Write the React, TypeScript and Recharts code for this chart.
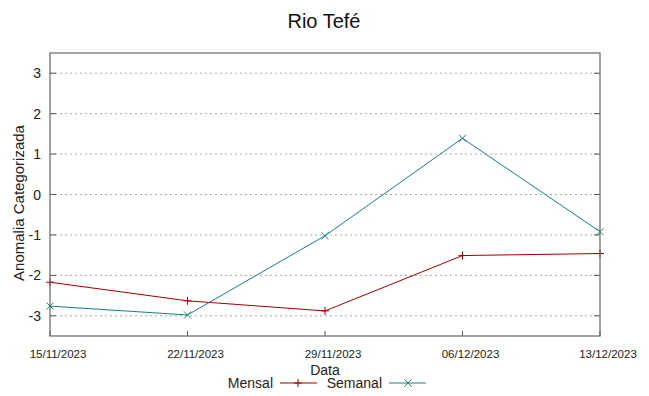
import React from 'react';
import { LineChart, Line, XAxis, YAxis, CartesianGrid } from 'recharts';

const dates = ['15/11/2023', '22/11/2023', '29/11/2023', '06/12/2023', '13/12/2023'];
const mensal = [-2.17, -2.63, -2.88, -1.51, -1.46];
const semanal = [-2.76, -2.98, -1.02, 1.39, -0.92];
const yTicks = [-3, -2, -1, 0, 1, 2, 3];
const seriesNames = ['Mensal', 'Semanal'];

const RED = '#a00000';
const TEAL = '#1a8080';
const AXIS = '#555';
const FONT = '"Liberation Sans", Arial, sans-serif';

const data = dates.map((d, i) => ({ date: d, Mensal: mensal[i], Semanal: semanal[i] }));

const PlusDot = (props: any) => {
  const { cx, cy } = props;
  if (cx == null || cy == null) return null;
  const s = 4;
  return (
    <g>
      <line x1={cx - s} y1={cy} x2={cx + s} y2={cy} stroke={RED} strokeWidth={1} />
      <line x1={cx} y1={cy - s} x2={cx} y2={cy + s} stroke={RED} strokeWidth={1} />
    </g>
  );
};

const CrossDot = (props: any) => {
  const { cx, cy } = props;
  if (cx == null || cy == null) return null;
  const s = 3.5;
  return (
    <g>
      <line x1={cx - s} y1={cy - s} x2={cx + s} y2={cy + s} stroke={TEAL} strokeWidth={1} />
      <line x1={cx - s} y1={cy + s} x2={cx + s} y2={cy - s} stroke={TEAL} strokeWidth={1} />
    </g>
  );
};

const LeftTick = (props: any) => {
  const { x, y, payload } = props;
  return (
    <g>
      <text x={x} y={y} dy={5} textAnchor="end" fontSize={14} fill="#222" fontFamily={FONT}>
        {payload.value}
      </text>
      <line x1={x + 9} y1={y} x2={x + 15} y2={y} stroke={AXIS} />
    </g>
  );
};

const RightTick = (props: any) => {
  const { x, y } = props;
  return <line x1={x - 6} y1={y} x2={x} y2={y} stroke={AXIS} />;
};

const BottomTick = (props: any) => {
  const { x, y, payload } = props;
  return (
    <g>
      <text x={x + 8} y={y} dy={10} textAnchor="middle" fontSize={11.5} fill="#222" fontFamily={FONT}>
        {payload.value}
      </text>
      <line x1={x} y1={y - 12} x2={x} y2={y - 17} stroke={AXIS} />
    </g>
  );
};

const TopTick = (props: any) => {
  const { x, y } = props;
  return <line x1={x} y1={y} x2={x} y2={y + 5} stroke={AXIS} />;
};

export default function App() {
  return (
    <div style={{ position: 'absolute', left: 0, top: 0, width: 649, height: 396, background: '#fff' }}>
      <LineChart width={649} height={396} data={data} margin={{ top: 53, right: 0, bottom: 0, left: 0 }}>
        <CartesianGrid vertical={false} stroke="#aaa" strokeDasharray="2 3" horizontalValues={yTicks} />
        <XAxis
          dataKey="date"
          xAxisId={0}
          orientation="bottom"
          height={60}
          tickSize={0}
          tickMargin={12}
          tickLine={false}
          axisLine={false}
          tick={<BottomTick />}
          interval={0}
        />
        <XAxis
          dataKey="date"
          xAxisId="top"
          orientation="top"
          height={0}
          tickSize={0}
          tickMargin={0}
          tickLine={false}
          axisLine={false}
          tick={<TopTick />}
          interval={0}
        />
        <YAxis
          yAxisId={0}
          orientation="left"
          width={50}
          domain={[-3.5, 3.5]}
          ticks={yTicks}
          tickSize={0}
          tickMargin={9}
          tickLine={false}
          axisLine={false}
          tick={<LeftTick />}
          allowDataOverflow
        />
        <YAxis
          yAxisId="right"
          orientation="right"
          width={49}
          domain={[-3.5, 3.5]}
          ticks={yTicks}
          tickSize={0}
          tickMargin={0}
          tickLine={false}
          axisLine={false}
          tick={<RightTick />}
          allowDataOverflow
        />
        <Line
          dataKey="Mensal"
          xAxisId={0}
          yAxisId={0}
          stroke={RED}
          strokeWidth={1}
          dot={<PlusDot />}
          activeDot={false}
          isAnimationActive={false}
          type="linear"
        />
        <Line
          dataKey="Semanal"
          xAxisId={0}
          yAxisId={0}
          stroke={TEAL}
          strokeWidth={1}
          dot={<CrossDot />}
          activeDot={false}
          isAnimationActive={false}
          type="linear"
        />
      </LineChart>
      <svg
        width={649}
        height={396}
        style={{ position: 'absolute', left: 0, top: 0, pointerEvents: 'none' }}
        fontFamily={FONT}
      >
        <rect x={50} y={53} width={550} height={283} fill="none" stroke="#666" strokeWidth={1.2} />
        <text x={324} y={28} textAnchor="middle" fontSize={20} fill="#111">Rio Tefé</text>
        <text
          x={24}
          y={203}
          textAnchor="middle"
          fontSize={15}
          fill="#222"
          transform="rotate(-90 24 203)"
        >
          Anomalia Categorizada
        </text>
        <text x={325} y={375} textAnchor="middle" fontSize={14} fill="#222">Data</text>
        <text x={273} y={388} textAnchor="end" fontSize={14} fill="#222">{seriesNames[0]}</text>
        <line x1={280} y1={383} x2={317} y2={383} stroke={RED} />
        <PlusDot cx={298} cy={383} />
        <text x={382} y={388} textAnchor="end" fontSize={14} fill="#222">{seriesNames[1]}</text>
        <line x1={389} y1={383} x2={426} y2={383} stroke={TEAL} />
        <CrossDot cx={408} cy={383} />
      </svg>
    </div>
  );
}
